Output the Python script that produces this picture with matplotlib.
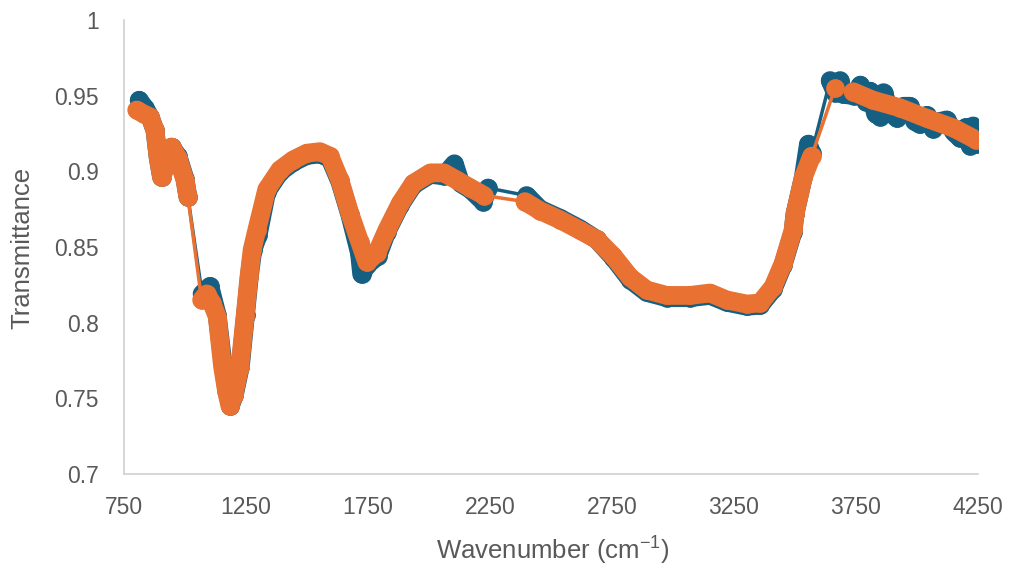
import numpy as np
import matplotlib.pyplot as plt

plt.rcParams['font.family'] = ['Liberation Sans', 'DejaVu Sans']
plt.rcParams['mathtext.default'] = 'regular'

# espectro 1 (azul)
wn_azul = [812, 835, 857, 877, 890, 904, 925, 945, 971, 1000, 1012,
           1070, 1102, 1132, 1157, 1172, 1186, 1202, 1227, 1248, 1264, 1278, 1300,
           1335, 1389, 1443, 1499, 1553, 1594, 1635, 1676, 1715, 1724, 1745, 1790,
           1827, 1883, 1936, 2006, 2061, 2104, 2130, 2170, 2222, 2242,
           2400, 2455, 2537, 2619, 2687, 2755, 2824, 2892, 2974, 3070, 3152, 3220,
           3302, 3357, 3410, 3451, 3492, 3500, 3534, 3555, 3568,
           3644, 3665, 3685, 3695, 3740, 3768, 3790, 3808, 3830, 3850, 3863, 3890,
           3918, 3945, 3971, 3990, 4012, 4040, 4066, 4095, 4122, 4150, 4176, 4200,
           4217, 4230, 4245]
t_azul = [0.947, 0.942, 0.936, 0.927, 0.909, 0.896, 0.906, 0.916, 0.910, 0.895, 0.883,
          0.819, 0.824, 0.805, 0.771, 0.755, 0.745, 0.752, 0.771, 0.805, 0.831, 0.848, 0.858,
          0.8865, 0.8995, 0.906, 0.9105, 0.9115, 0.9085, 0.893, 0.871, 0.846, 0.832, 0.838, 0.844,
          0.860, 0.878, 0.891, 0.898, 0.897, 0.905, 0.892, 0.888, 0.880, 0.889,
          0.884, 0.875, 0.869, 0.862, 0.855, 0.843, 0.8285, 0.820, 0.8165, 0.8165, 0.818, 0.8135,
          0.8108, 0.8115, 0.822, 0.838, 0.860, 0.872, 0.896, 0.918, 0.912,
          0.960, 0.952, 0.960, 0.951, 0.950, 0.957, 0.946, 0.953, 0.938, 0.936, 0.952, 0.939,
          0.935, 0.943, 0.943, 0.933, 0.931, 0.937, 0.928, 0.933, 0.934, 0.926, 0.922, 0.929,
          0.917, 0.930, 0.918]
cortes_azul = [1070, 2400, 3644]

# espectro 2 (naranja)
wn_naranja = [802, 830, 857, 877, 890, 904, 925, 945, 971, 1000, 1012,
              1068, 1089, 1110, 1132, 1154, 1170, 1184, 1200, 1225, 1246, 1262, 1275,
              1294, 1335, 1389, 1443, 1499, 1553, 1594, 1635, 1676, 1717, 1745, 1786,
              1827, 1883, 1936, 2006, 2061, 2116, 2170, 2226,
              2393, 2455, 2537, 2619, 2687, 2755, 2824, 2892, 2974, 3070, 3152, 3220,
              3302, 3357, 3410, 3451, 3492, 3500, 3534, 3568,
              3664,
              3738, 3820, 3930, 4040, 4150, 4240]
t_naranja = [0.9405, 0.938, 0.936, 0.927, 0.909, 0.896, 0.905, 0.916, 0.909, 0.894, 0.883,
             0.815, 0.819, 0.813, 0.804, 0.771, 0.755, 0.745, 0.752, 0.771, 0.804, 0.830, 0.848,
             0.861, 0.888, 0.901, 0.9075, 0.912, 0.913, 0.910, 0.894, 0.872, 0.853, 0.840, 0.846,
             0.861, 0.879, 0.892, 0.899, 0.899, 0.894, 0.889, 0.884,
             0.880, 0.874, 0.868, 0.861, 0.855, 0.844, 0.830, 0.8216, 0.818, 0.818, 0.8196, 0.815,
             0.8123, 0.813, 0.8236, 0.839, 0.861, 0.872, 0.896, 0.910,
             0.955,
             0.9526, 0.947, 0.942, 0.935, 0.9286, 0.921]
cortes_naranja = [1068, 2393, 3664, 3738]

azul = '#156082'
naranja = '#E97132'


def dibujar(ax, wn, t, cortes, color, z):
    # linea fina que une todos los puntos
    ax.plot(wn, t, color=color, lw=2.5, zorder=z)
    inicios = [0] + [wn.index(c) for c in cortes] + [len(wn)]
    for a, b in zip(inicios[:-1], inicios[1:]):
        ax.plot(wn[a:b], t[a:b], color=color, lw=13.5, marker='o', ms=13.5, mew=0,
                solid_capstyle='round', solid_joinstyle='round', zorder=z)


fig = plt.figure(figsize=(10.12, 5.69), dpi=100)
ax = fig.add_axes([124 / 1012, 1 - 474 / 569, 854 / 1012, 454 / 569])

dibujar(ax, wn_azul, t_azul, cortes_azul, azul, 2)
dibujar(ax, wn_naranja, t_naranja, cortes_naranja, naranja, 3)

ax.set_xlim(750, 4250)
ax.set_ylim(0.7, 1)
ax.set_xticks(np.arange(750, 4251, 500))
yt = [0.7, 0.75, 0.8, 0.85, 0.9, 0.95, 1]
ax.set_yticks(yt)
ax.set_yticklabels(['0.7', '0.75', '0.8', '0.85', '0.9', '0.95', '1'])

gris = '#595959'
ax.tick_params(length=0, labelsize=16.5, labelcolor=gris)
ax.tick_params(axis='y', pad=18)
ax.tick_params(axis='x', pad=16)
for lado in ['top', 'right']:
    ax.spines[lado].set_visible(False)
for lado in ['left', 'bottom']:
    ax.spines[lado].set_color('#D0D0D0')
    ax.spines[lado].set_linewidth(1.2)

fig.text(22 / 1012, 1 - 248 / 569, 'Transmittance', rotation=90, ha='center', va='center',
         fontsize=18.5, color=gris)
fig.text(553 / 1012, 1 - 551 / 569, 'Wavenumber (cm$^{-1}$)', ha='center', va='center',
         fontsize=18.5, color=gris)

fig.savefig('out.png', dpi=100)
